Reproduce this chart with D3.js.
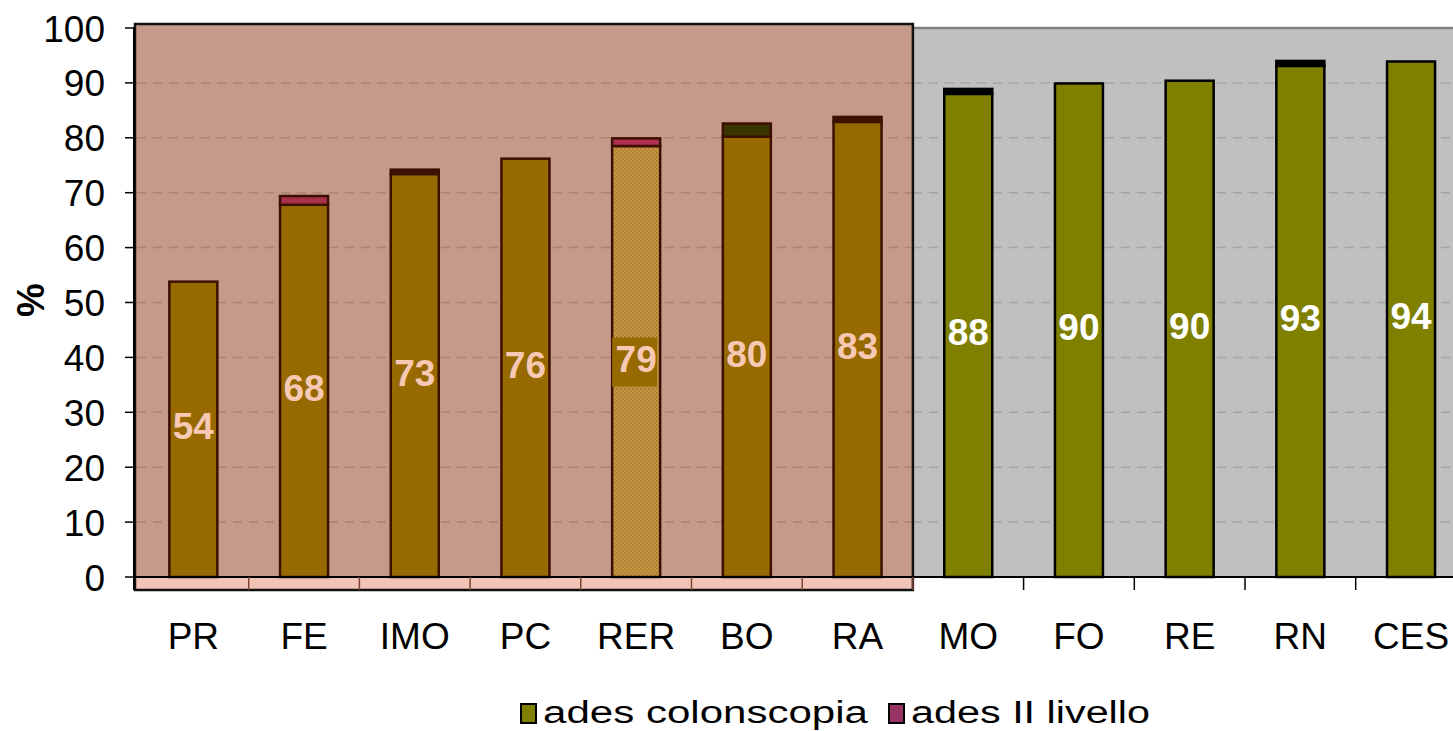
<!DOCTYPE html>
<html><head><meta charset="utf-8">
<script src="https://cdn.jsdelivr.net/npm/d3@7"></script>
<style>body{margin:0;background:#fff}svg{display:block;font-family:"Liberation Sans",Arial,sans-serif}</style>
</head><body>
<svg id="chart" width="1453" height="731"></svg>
<script>
// ---- data ----
const categories = ["PR","FE","IMO","PC","RER","BO","RA","MO","FO","RE","RN","CES"];
const adesColonscopia = [53.8,67.8,73.4,76.2,78.5,80.2,82.9,88.0,89.9,90.4,93.1,93.9];
const adesIILivello  = [0,1.6,0.8,0,1.4,2.4,0.9,0.9,0,0,0.9,0];
const highlighted = ["PR","FE","IMO","PC","RER","BO","RA"];
const yTicks = [0,10,20,30,40,50,60,70,80,90,100];
const seriesNames = ["ades colonscopia","ades II livello"];

// ---- styles ----
const segColors = {FE:"#a8304a",IMO:"#3c1400",RER:"#b03050",BO:"#3a3500",RA:"#3c1400",MO:"#000",RN:"#000"};

const svg = d3.select("#chart");
const x = d3.scaleBand().domain(categories).range([138, 138 + 110.7*12]).padding(0);
const y = d3.scaleLinear().domain([0,100]).range([577, 28]);
const barW = 48;
const isHi = c => highlighted.includes(c);
const hiRight = x(highlighted[highlighted.length-1]) + x.bandwidth();

// grey plot area
svg.append("rect").attr("x",134).attr("y",y(100)).attr("width",1453-134).attr("height",y(0)-y(100)).attr("fill","#c0c0c0");
svg.append("line").attr("x1",134).attr("x2",1453).attr("y1",y(100)).attr("y2",y(100)).attr("stroke","#808080").attr("stroke-width",2.5);

// highlight region background
svg.append("rect").attr("x",135).attr("y",24).attr("width",hiRight-135).attr("height",590-24).attr("fill","#c59a8b");
svg.append("rect").attr("x",136).attr("y",y(0)).attr("width",hiRight-137).attr("height",13).attr("fill","#f2c4b8");

// gridlines
const grid = yTicks.filter(t => t>0 && t<100);
svg.append("g").selectAll("line").data(grid).join("line")
  .attr("x1",hiRight).attr("x2",1453).attr("y1",d=>y(d)).attr("y2",d=>y(d))
  .attr("stroke","#a4a4a4").attr("stroke-width",1.5).attr("stroke-dasharray","9,7");
svg.append("g").selectAll("line").data(grid).join("line")
  .attr("x1",137).attr("x2",hiRight).attr("y1",d=>y(d)).attr("y2",d=>y(d))
  .attr("stroke","#ab8373").attr("stroke-width",1.5).attr("stroke-dasharray","9,7");

// pattern for RER
const defs = svg.append("defs");
const pat = defs.append("pattern").attr("id","dots").attr("width",4).attr("height",4).attr("patternUnits","userSpaceOnUse");
pat.append("rect").attr("width",4).attr("height",4).attr("fill","#c69443");
pat.append("rect").attr("x",0).attr("y",0).attr("width",1.5).attr("height",1.5).attr("fill","#a2762a");
pat.append("rect").attr("x",2).attr("y",2).attr("width",1.5).attr("height",1.5).attr("fill","#a2762a");

const rows = categories.map((c,i)=>({c, a:adesColonscopia[i], b:adesIILivello[i]}));

// bars: colonscopia
svg.append("g").selectAll("rect").data(rows).join("rect")
  .attr("x",d=>x(d.c)+x.bandwidth()/2-barW/2).attr("width",barW)
  .attr("y",d=>y(d.a)).attr("height",d=>y(0)-y(d.a))
  .attr("fill",d=> d.c==="RER" ? "url(#dots)" : (isHi(d.c) ? "#966a00" : "#808000"))
  .attr("stroke",d=>isHi(d.c)?"#3c1000":"#000").attr("stroke-width",2.5);
// bars: II livello
svg.append("g").selectAll("rect").data(rows.filter(d=>d.b>0)).join("rect")
  .attr("x",d=>x(d.c)+x.bandwidth()/2-barW/2).attr("width",barW)
  .attr("y",d=>y(d.a+d.b)).attr("height",d=>y(d.a)-y(d.a+d.b))
  .attr("fill",d=>segColors[d.c]||"#993366")
  .attr("stroke",d=>isHi(d.c)?"#3c1000":"#000").attr("stroke-width",2.5);

// label background for RER
rows.filter(d=>d.c==="RER").forEach(d=>{
  svg.append("rect").attr("x",x(d.c)+x.bandwidth()/2-24).attr("y",y(d.a/2)-24).attr("width",45).attr("height",49).attr("fill","#966a00");
});

// value labels
svg.append("g").selectAll("text").data(rows).join("text")
  .attr("x",d=>x(d.c)+x.bandwidth()/2).attr("y",d=>y(d.a/2)+10)
  .attr("text-anchor","middle").attr("font-size",37).attr("font-weight","bold")
  .attr("fill",d=>isHi(d.c)?"#f7c9b4":"#fff")
  .text(d=>Math.round(d.a));

// highlight region border
svg.append("rect").attr("x",135).attr("y",24).attr("width",hiRight-135).attr("height",590-24)
  .attr("fill","none").attr("stroke","#111").attr("stroke-width",2.5);

// x axis
svg.append("line").attr("x1",134).attr("x2",1453).attr("y1",y(0)).attr("y2",y(0)).attr("stroke","#000").attr("stroke-width",2);
const bounds = categories.slice(1).map(c=>x(c));
svg.append("g").selectAll("line").data(bounds).join("line")
  .attr("x1",d=>d).attr("x2",d=>d).attr("y1",y(0)).attr("y2",590)
  .attr("stroke",d=>d<hiRight?"#7a4535":"#000").attr("stroke-width",1.5);
svg.append("g").selectAll("text").data(categories).join("text")
  .attr("x",c=>x(c)+x.bandwidth()/2).attr("y",649)
  .attr("text-anchor","middle").attr("font-size",37).attr("fill","#000").text(c=>c);

// y axis
svg.append("line").attr("x1",134).attr("x2",134).attr("y1",y(100)-1).attr("y2",590).attr("stroke","#000").attr("stroke-width",2);
svg.append("g").selectAll("line").data(yTicks).join("line")
  .attr("x1",125).attr("x2",134).attr("y1",d=>y(d)).attr("y2",d=>y(d)).attr("stroke","#000").attr("stroke-width",1.5);
svg.append("g").selectAll("text").data(yTicks).join("text")
  .attr("x",105).attr("y",d=>y(d)+13.5).attr("text-anchor","end").attr("font-size",37).attr("fill","#000").text(d=>d);
svg.append("text").attr("transform","translate(44,300) rotate(-90)").attr("text-anchor","middle")
  .attr("font-size",38).attr("font-weight","bold").text("%");

// legend
const legend = [
  {name:seriesNames[0], color:"#808000", sx:521, tx:543, tl:325},
  {name:seriesNames[1], color:"#993366", sx:889, tx:911, tl:239}
];
legend.forEach(l=>{
  svg.append("rect").attr("x",l.sx).attr("y",704).attr("width",15).attr("height",19).attr("fill",l.color).attr("stroke","#000").attr("stroke-width",2);
  svg.append("text").attr("x",l.tx).attr("y",723).attr("font-size",31).attr("textLength",l.tl).attr("lengthAdjust","spacingAndGlyphs").text(l.name);
});
</script>
</body></html>
